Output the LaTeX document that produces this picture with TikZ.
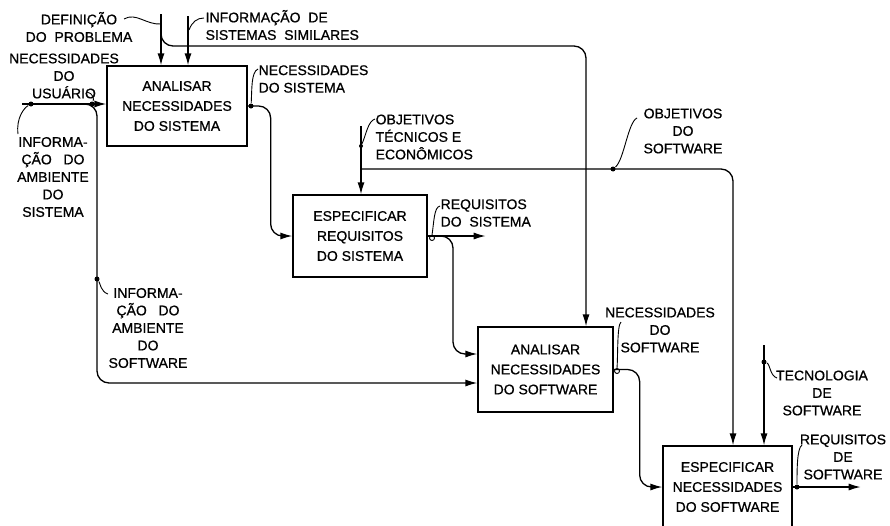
\documentclass[tikz,border=0pt]{standalone}
\usepackage{fontspec}
\setmainfont{Liberation Sans}[FakeBold=0.7]
\usetikzlibrary{arrows.meta,calc}
\newcommand{\lblfont}{\fontsize{14}{17.5}\selectfont}
\newcommand{\boxfont}{\fontsize{14}{20}\selectfont}
\begin{document}
\begin{tikzpicture}[x=1pt,y=-1pt,
  line width=1.3pt,
  arr/.style={-{Latex[length=12pt,width=7pt]}},
  procbox/.style={draw, line width=1.3pt, align=center, inner sep=0pt, font=\boxfont},
  lbl/.style={inner sep=0pt, font=\lblfont},
  sq/.style={line width=0.9pt},
  dot/.style={circle, fill, inner sep=0pt, minimum size=5pt},
  loopc/.style={circle, draw, line width=0.9pt, inner sep=0pt, minimum size=5pt},
  rc/.style={rounded corners=12pt}]
\useasboundingbox (0,0) rectangle (890,525);
\clip (0,0) rectangle (890,525);
\fill[white] (0,0) rectangle (890,525);

% process boxes
\node[procbox, minimum width=140pt, minimum height=80pt] (b1) at (177,106) {ANALISAR\\NECESSIDADES\\DO SISTEMA};
\node[procbox, minimum width=134pt, minimum height=82pt] (b2) at (360,236) {ESPECIFICAR\\REQUISITOS\\DO SISTEMA};
\node[procbox, minimum width=135pt, minimum height=85pt] (b3) at (545.5,369.5) {ANALISAR\\NECESSIDADES\\DO SOFTWARE};
\node[procbox, minimum width=129pt, minimum height=82pt] (b4) at (727.5,487) {ESPECIFICAR\\NECESSIDADES\\DO SOFTWARE};

% labels
\node[lbl, align=center] (ldef) at (79,27) {DEFINIÇÃO\\DO\ \ PROBLEMA};
\node[lbl, align=left, anchor=west] (lsim) at (205,25) {INFORMAÇÃO\ \ DE\\SISTEMAS\ \ SIMILARES};
\node[lbl, align=center] (lusu) at (64,76) {NECESSIDADES\\DO\\USUÁRIO};
\node[lbl, align=center] (lamb) at (53,177) {INFORMA-\\ÇÃO\ \ \ DO\\AMBIENTE\\DO\\SISTEMA};
\node[lbl, align=left, anchor=west] (lnsis) at (258,79) {NECESSIDADES\\DO SISTEMA};
\node[lbl, align=left, anchor=west] (lobj) at (375,137) {OBJETIVOS\\TÉCNICOS E\\ECONÔMICOS};
\node[lbl, align=center] (lobs) at (683,131) {OBJETIVOS\\DO\\SOFTWARE};
\node[lbl, align=left, anchor=west] (lreq) at (440,213) {REQUISITOS\\DO\ \ SISTEMA};
\node[lbl, align=center] (lambs) at (148,328) {INFORMA-\\ÇÃO\ \ \ DO\\AMBIENTE\\DO\\SOFTWARE};
\node[lbl, align=center] (lnsw) at (660,330) {NECESSIDADES\\DO\\SOFTWARE};
\node[lbl, align=center] (ltec) at (822,393) {TECNOLOGIA\\DE\\SOFTWARE};
\node[lbl, align=center] (lreqs) at (843,457) {REQUISITOS\\DE\\SOFTWARE};

% coordinates
\coordinate (defTop) at (161,14);
\coordinate (simTop) at (188,16);
\coordinate (brA) at (161,30);
\coordinate (brB) at (586,46);
\coordinate (usuL) at (22,104);
\coordinate (ambS) at (80,104);
\coordinate (ambC) at (97,383);
\coordinate (objTop) at (361,126);
\coordinate (objJ) at (361,169);
\coordinate (objC) at (733,169);
\coordinate (reqS) at (437,236);
\coordinate (reqC) at (453,354);
\coordinate (tecTop) at (764,345);

% connectors
\draw[arr] (defTop) -- (defTop |- b1.north);
\draw[arr] (simTop) -- (simTop |- b1.north);
\draw[arr, rc] (brA) |- (brB) -- (brB |- b3.north);
\draw[arr] (usuL) -- (usuL -| b1.west);
\draw[arr, rc] (ambS) -| (ambC) -- (ambC -| b3.west);
\draw[arr, rc] (b1.east) -- ++(23,0) |- (b2.west);
\draw[arr] (objTop) -- (objTop |- b2.north);
\draw[arr, rc] (objJ) -- (objC) -- (objC |- b4.north);
\draw[arr] (b2.east) -- ++(58,0);
\draw[arr, rc] (reqS) -| (reqC) -- (reqC -| b3.west);
\draw[arr, rc] (b3.east) -- ++(26,0) |- (b4.west);
\draw[arr] (tecTop) -- (tecTop |- b4.north);
\draw[arr] (b4.east) -- ++(68,0);

% dots and loops
\node[dot] (d1) at (31,104) {};
\node[dot] (d2) at (92,104) {};
\node[dot] (d3) at (251,106) {};
\node[dot] (d4) at (97,279) {};
\node[dot, minimum size=4pt] (d5) at (361,146) {};
\node[dot] (d6) at (613,169) {};
\node[dot] (d7) at (764,362) {};
\node[dot] (d8) at (797,487) {};
\node[loopc] (o1) at (432,238) {};
\node[loopc] (o2) at (617,371) {};

% squiggles from labels
\coordinate (sDef) at (124,19);
\coordinate (sDefE) at (161,24);
\draw[sq] (sDef) .. controls (136,12) and (146,25) .. (sDefE);
\coordinate (sSim) at (204,18);
\coordinate (sSimE) at (189,30);
\draw[sq] (sSim) .. controls (197,18) and (192,22) .. (sSimE);
\coordinate (sUsu) at (87,92);
\draw[sq] (sUsu) .. controls (93,93) and (94,99) .. (d2);
\coordinate (sAmb) at (18,134);
\draw[sq] (sAmb) .. controls (16,118) and (24,108) .. (d1);
\coordinate (sNsis) at (258,69);
\draw[sq] (sNsis) .. controls (251,72) and (252,90) .. (d3);
\coordinate (sObj) at (375,119);
\draw[sq] (sObj) .. controls (368,121) and (366,135) .. (d5);
\coordinate (sObs) at (637,118);
\draw[sq] (sObs) .. controls (628,122) and (624,160) .. (d6);
\coordinate (sReq) at (440,206);
\draw[sq] (sReq) .. controls (434,207) and (434,222) .. (o1.north);
\coordinate (sAmbs) at (108,294);
\draw[sq] (d4) .. controls (100,283) and (101,292) .. (sAmbs);
\coordinate (sNsw) at (621,322);
\draw[sq] (sNsw) .. controls (617,325) and (618,355) .. (o2.north);
\coordinate (sTec) at (777,378);
\draw[sq] (d7) .. controls (770,364) and (770,376) .. (sTec);
\coordinate (sReqs) at (802,445);
\draw[sq] (sReqs) .. controls (797,448) and (797,470) .. (d8);
\end{tikzpicture}
\end{document}
